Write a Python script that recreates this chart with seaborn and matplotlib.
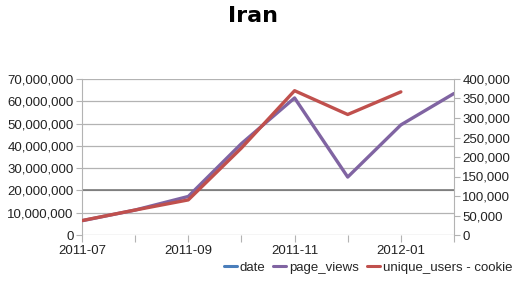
import matplotlib
matplotlib.use("Agg")
import matplotlib.pyplot as plt
from matplotlib.lines import Line2D
from matplotlib.ticker import FuncFormatter, MultipleLocator
import seaborn as sns
import pandas as pd
import numpy as np

months = ["2011-07", "2011-08", "2011-09", "2011-10", "2011-11", "2011-12", "2012-01", "2012-02"]
page_views = [6.4e6, 11.2e6, 17.3e6, 41e6, 61.5e6, 26e6, 49.4e6, 63.5e6]
unique_users = [37e3, 64e3, 90e3, 223e3, 370e3, 309e3, 367e3, np.nan]
labeled_months = ["2011-07", "2011-09", "2011-11", "2012-01"]

sns.set_style("white")
plt.rcParams["font.family"] = ["Liberation Sans", "DejaVu Sans"]

df = pd.DataFrame({"month": months, "pos": range(len(months)),
                   "page_views": page_views, "unique_users": unique_users})

fig = plt.figure(figsize=(5.2, 3.0), dpi=100)
ax = fig.add_axes([82/520, 1-235/300, (454-82)/520, (235-79)/300])
ax2 = ax.twinx()

c_date = "#4a7ebb"
c_pv = "#8064a2"
c_uu = "#c0504d"

sns.lineplot(data=df, x="pos", y="page_views", ax=ax, color=c_pv, lw=2.4, legend=False)
sns.lineplot(data=df.dropna(), x="pos", y="unique_users", ax=ax2, color=c_uu, lw=2.4, legend=False)

ax.set_xlim(0, len(months)-1)
ax.set_ylim(0, 70e6)
ax2.set_ylim(0, 400e3)
ax.yaxis.set_major_locator(MultipleLocator(10e6))
ax2.yaxis.set_major_locator(MultipleLocator(50e3))
fmt = FuncFormatter(lambda v, p: f"{int(round(v)):,}")
ax.yaxis.set_major_formatter(fmt)
ax2.yaxis.set_major_formatter(fmt)

ax.set_xticks(list(df["pos"]))
ax.set_xticklabels([m if m in labeled_months else "" for m in months])

ax.grid(axis="y", color="#b3b3b3", lw=0.9)
ax.axhline(20e6, color="#707070", lw=1.1, zorder=1)
ax.set_axisbelow(True)
ax.set_xlabel("")
ax.set_ylabel("")
ax2.set_ylabel("")
ax2.set_xlabel("")

for a in (ax, ax2):
    for s in a.spines.values():
        s.set_visible(False)
    a.tick_params(axis="both", length=4, width=0.8, color="#b3b3b3",
                  labelsize=9.5, colors="#b3b3b3", labelcolor="#222222", pad=2)
ax.spines["left"].set_visible(True)
ax.spines["left"].set_color("#b3b3b3")
ax2.spines["right"].set_visible(True)
ax2.spines["right"].set_color("#b3b3b3")
ax.tick_params(axis="y", left=True)
ax.tick_params(axis="x", bottom=True, length=5)
ax2.tick_params(axis="y", right=True)

fig.text(0.487, 0.948, "Iran", ha="center", va="center", fontsize=16, fontweight="heavy",
         color="black", family=["DejaVu Sans"])

handles = [Line2D([], [], color=c_date, lw=2.2),
           Line2D([], [], color=c_pv, lw=2.2),
           Line2D([], [], color=c_uu, lw=2.2)]
fig.legend(handles, ["date", "page_views", "unique_users - cookie"], loc="center right",
           bbox_to_anchor=(1.0, 0.107), ncol=3, frameon=False, fontsize=9.5,
           handlelength=1.0, handletextpad=0.2, columnspacing=0.6, borderaxespad=0.2)

fig.savefig("out.png", dpi=100)
